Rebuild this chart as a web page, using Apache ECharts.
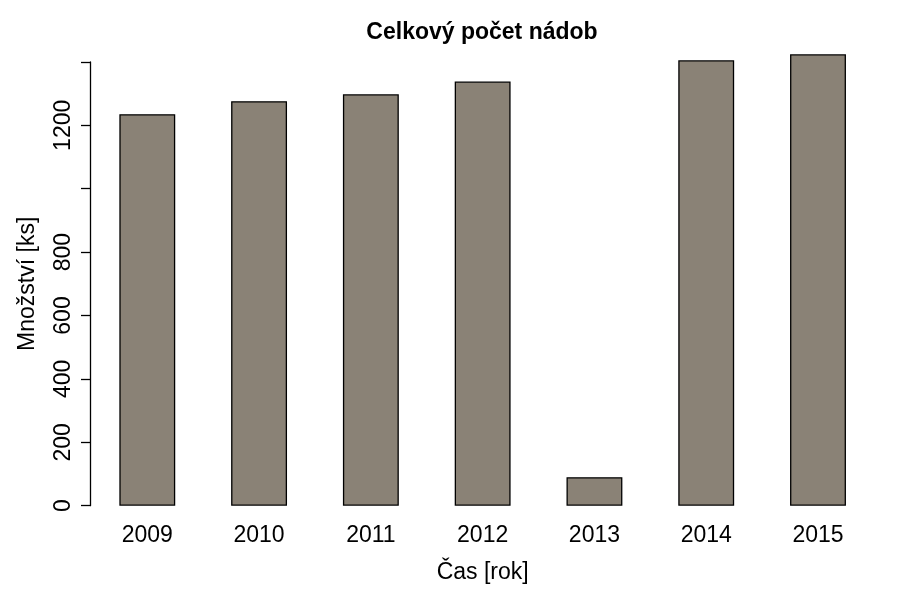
<!DOCTYPE html>
<html><head><meta charset="utf-8">
<script src="https://cdn.jsdelivr.net/npm/echarts@6/dist/echarts.min.js"></script>
<style>html,body{margin:0;padding:0;background:#fff}#c{width:907px;height:600px}</style>
</head><body><div id="c"></div>
<script>
const years = ['2009','2010','2011','2012','2013','2014','2015'];
const counts = [1235, 1276, 1298, 1338, 90, 1405, 1424];
const yTicks = [0, 200, 400, 600, 800, 1000, 1200, 1400];
const yTickLabelsShown = [0, 200, 400, 600, 800, 1200];
const titleText = 'Celkový počet nádob';
const xName = 'Čas [rok]';
const yName = 'Množství [ks]';

const font = 'Liberation Sans, Arial, sans-serif';
const chart = echarts.init(document.getElementById('c'), null, {renderer:'canvas'});
chart.setOption({
  backgroundColor: '#ffffff',
  animation: false,
  title: {
    text: titleText, left: 477, top: 16, textAlign: 'center',
    textStyle: {fontFamily: font, fontWeight: 'bold', fontSize: 23, color: '#000'}
  },
  grid: {left: 91.4, right: 33.1, top: 61.9, bottom: 94.3, containLabel: false},
  xAxis: {
    type: 'category', data: years, boundaryGap: true,
    axisLine: {show: false}, axisTick: {show: false},
    axisLabel: {fontFamily: font, fontSize: 23, color: '#000', margin: 18},
    name: xName, nameLocation: 'middle', nameGap: 55,
    nameTextStyle: {fontFamily: font, fontSize: 23, color: '#000'}
  },
  yAxis: {
    type: 'value', min: yTicks[0], max: yTicks[yTicks.length-1], interval: 200,
    offset: 1.4,
    splitLine: {show: false},
    axisLine: {show: true, lineStyle: {color: '#000', width: 1.3}},
    axisTick: {show: true, length: 9, lineStyle: {color: '#000', width: 1.3}},
    axisLabel: {
      fontFamily: font, fontSize: 23, color: '#000', rotate: 90, margin: 15,
      formatter: v => yTickLabelsShown.includes(v) ? String(v) : ''
    },
    name: yName, nameLocation: 'middle', nameGap: 51, nameRotate: 90,
    nameTextStyle: {fontFamily: font, fontSize: 23, color: '#000'}
  },
  series: [{
    type: 'bar', data: counts, barWidth: '50%', clip: false,
    itemStyle: {color: '#8a8276', borderColor: '#000', borderWidth: 1.3}
  }]
});
</script></body></html>
